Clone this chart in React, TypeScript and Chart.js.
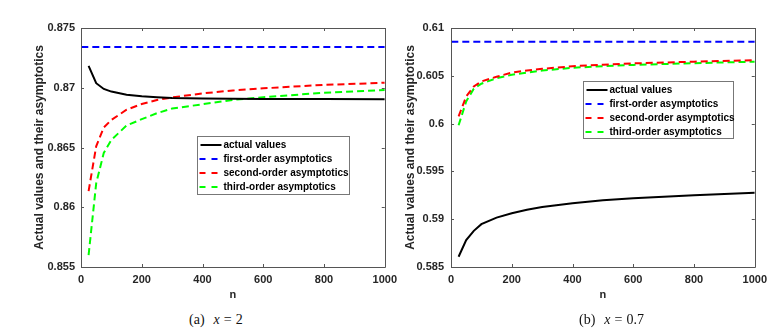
import React, { useEffect, useRef } from "react";
import { Chart, registerables } from "chart.js";

Chart.register(...registerables);

// ---- data ----
const nValues = [25, 50, 75, 100, 150, 200, 250, 300, 400, 500, 600, 800, 1000];
const nFirstOrder = [1, 1000];

const actualA = [0.87183, 0.87038, 0.8699, 0.86968, 0.86942, 0.86928, 0.8692, 0.86914, 0.8691, 0.86907, 0.86906, 0.86905, 0.86904];
const firstA = [0.87342, 0.87342];
const secondA = [0.86135, 0.8651, 0.86667, 0.86731, 0.86816, 0.86864, 0.86898, 0.86919, 0.86953, 0.86977, 0.86995, 0.87024, 0.87042];
const thirdA = [0.856, 0.862, 0.86455, 0.86564, 0.86684, 0.86737, 0.86787, 0.86826, 0.86862, 0.86898, 0.86921, 0.86958, 0.86981];

const actualB = [0.58607, 0.58781, 0.58878, 0.58948, 0.59017, 0.59062, 0.59098, 0.59128, 0.59166, 0.59198, 0.59219, 0.5925, 0.59277];
const firstB = [0.60857, 0.60857];
const secondB = [0.60076, 0.60284, 0.60389, 0.60441, 0.6049, 0.60534, 0.60555, 0.60573, 0.606, 0.60616, 0.6063, 0.60648, 0.60663];
const thirdB = [0.59982, 0.60232, 0.60365, 0.60417, 0.60475, 0.6051, 0.60534, 0.60555, 0.60584, 0.606, 0.60614, 0.60632, 0.60648];

const xTicks = [0, 200, 400, 600, 800, 1000];
const yTicksA = [0.855, 0.86, 0.865, 0.87, 0.875];
const yTicksB = [0.585, 0.59, 0.595, 0.6, 0.605, 0.61];

const seriesLabels = [
  "actual values",
  "first-order asymptotics",
  "second-order asymptotics",
  "third-order asymptotics",
];
const seriesColors = ["#000000", "#0000ff", "#ff0000", "#00ff00"];

const xTitle = "n";
const yTitle = "Actual values and their asymptotics";

const FONT = "'Liberation Sans', Arial, Helvetica, sans-serif";

// ---- plugins ----
const matlabAxes = {
  id: "matlabAxes",
  afterDatasetsDraw(chart: any) {
    const { ctx, chartArea } = chart;
    const { left, right, top, bottom } = chartArea;
    const xs = chart.scales.x;
    const ys = chart.scales.y;
    const tl = 3;
    ctx.save();
    ctx.strokeStyle = "#555555";
    ctx.lineWidth = 1;
    ctx.beginPath();
    ctx.rect(Math.round(left) + 0.5, Math.round(top) + 0.5, Math.round(right - left), Math.round(bottom - top));
    ctx.stroke();
    ctx.beginPath();
    xs.ticks.forEach((t: any) => {
      const px = Math.round(xs.getPixelForValue(t.value)) + 0.5;
      ctx.moveTo(px, bottom);
      ctx.lineTo(px, bottom - tl);
      ctx.moveTo(px, top);
      ctx.lineTo(px, top + tl);
    });
    ys.ticks.forEach((t: any) => {
      const py = Math.round(ys.getPixelForValue(t.value)) + 0.5;
      ctx.moveTo(left, py);
      ctx.lineTo(left + tl, py);
      ctx.moveTo(right, py);
      ctx.lineTo(right - tl, py);
    });
    ctx.stroke();
    ctx.restore();
  },
};

const insetLegend = {
  id: "insetLegend",
  afterDraw(chart: any, _args: any, opts: any) {
    const { ctx, chartArea } = chart;
    const x0 = Math.round(chartArea.left + opts.dx) + 0.5;
    const y0 = Math.round(chartArea.top + opts.dy) + 0.5;
    ctx.save();
    ctx.fillStyle = "#ffffff";
    ctx.fillRect(x0, y0, opts.w, opts.h);
    ctx.strokeStyle = "#777777";
    ctx.lineWidth = 1;
    ctx.strokeRect(x0, y0, opts.w, opts.h);
    ctx.font = `bold 10px ${FONT}`;
    ctx.textBaseline = "middle";
    ctx.textAlign = "left";
    chart.data.datasets.forEach((ds: any, i: number) => {
      const cy = y0 + 8.5 + i * 14;
      ctx.strokeStyle = ds.borderColor;
      ctx.lineWidth = 2;
      if (ds.borderDash && ds.borderDash.length) {
        ctx.setLineDash([6, 6]);
        ctx.beginPath();
        ctx.moveTo(x0 + 2, cy);
        ctx.lineTo(x0 + 21, cy);
        ctx.stroke();
      } else {
        ctx.setLineDash([]);
        ctx.beginPath();
        ctx.moveTo(x0 + 3, cy);
        ctx.lineTo(x0 + 24, cy);
        ctx.stroke();
      }
      ctx.setLineDash([]);
      ctx.fillStyle = "#000000";
      ctx.fillText(ds.label, x0 + 26, cy);
    });
    ctx.restore();
  },
};

type PanelProps = {
  left: number;
  width: number;
  yAxisWidth: number;
  titlePad: number;
  labelPad: number;
  yMin: number;
  yMax: number;
  yTicks: number[];
  actual: number[];
  first: number[];
  second: number[];
  third: number[];
  legend: { dx: number; dy: number; w: number; h: number };
};

function Panel(p: PanelProps) {
  const ref = useRef<HTMLCanvasElement | null>(null);
  useEffect(() => {
    if (!ref.current) return;
    const mk = (xs: number[], ys: number[]) => xs.map((x, i) => ({ x, y: ys[i] }));
    const series = [
      mk(nValues, p.actual),
      mk(nFirstOrder, p.first),
      mk(nValues, p.second),
      mk(nValues, p.third),
    ];
    const chart = new Chart(ref.current, {
      type: "line",
      data: {
        datasets: series.map((d, i) => ({
          label: seriesLabels[i],
          data: d,
          borderColor: seriesColors[i],
          backgroundColor: seriesColors[i],
          borderWidth: 2,
          borderDash: i === 0 ? [] : [7, 4],
          pointRadius: 0,
          tension: 0,
          fill: false,
        })),
      },
      options: {
        responsive: false,
        animation: false,
        events: [],
        layout: { padding: { left: 0, top: 28, right: 16, bottom: 0 } },
        plugins: {
          legend: { display: false },
          tooltip: { enabled: false },
          insetLegend: p.legend,
        } as any,
        scales: {
          x: {
            type: "linear",
            min: 0,
            max: 1000,
            grid: { display: false, drawTicks: false },
            border: { display: false },
            afterBuildTicks: (s: any) => {
              s.ticks = xTicks.map((v) => ({ value: v }));
            },
            afterFit: (s: any) => {
              s.height = 43;
            },
            ticks: {
              padding: 6,
              color: "#262626",
              font: { family: FONT, size: 11, weight: "bold" },
              maxRotation: 0,
              callback: (v: any) => String(v),
            },
            title: {
              display: true,
              text: xTitle,
              color: "#262626",
              font: { family: FONT, size: 11, weight: "bold" },
              padding: { top: 0, bottom: 8.4 },
            },
          },
          y: {
            type: "linear",
            min: p.yMin,
            max: p.yMax,
            grid: { display: false, drawTicks: false },
            border: { display: false },
            afterBuildTicks: (s: any) => {
              s.ticks = p.yTicks.map((v) => ({ value: v }));
            },
            afterFit: (s: any) => {
              s.width = p.yAxisWidth;
            },
            ticks: {
              padding: p.labelPad,
              color: "#262626",
              font: { family: FONT, size: 11, weight: "bold" },
              callback: (v: any) => String(Number(Number(v).toFixed(4))),
            },
            title: {
              display: true,
              text: yTitle,
              color: "#262626",
              font: { family: FONT, size: 12, weight: "bold" },
              padding: { top: p.titlePad, bottom: 0 },
            },
          },
        },
      } as any,
      plugins: [matlabAxes, insetLegend] as any,
    });
    return () => chart.destroy();
  }, []);
  return (
    <canvas
      ref={ref}
      width={p.width}
      height={310}
      style={{ position: "absolute", left: p.left, top: 0, width: p.width, height: 310 }}
    />
  );
}

const captionStyle: React.CSSProperties = {
  position: "absolute",
  top: 311,
  fontFamily: "'Liberation Serif', 'Times New Roman', serif",
  fontSize: 14,
  lineHeight: "18px",
  color: "#111",
  whiteSpace: "pre",
};

const eqStyle: React.CSSProperties = { margin: "0 4px" };

export default function App() {
  return (
    <div
      style={{
        position: "fixed",
        left: 0,
        top: 0,
        width: 779,
        height: 336,
        background: "#ffffff",
        overflow: "hidden",
      }}
    >
      <Panel
        left={0}
        width={403}
        yAxisWidth={81}
        titlePad={32}
        labelPad={6}
        yMin={0.855}
        yMax={0.875}
        yTicks={yTicksA}
        actual={actualA}
        first={firstA}
        second={secondA}
        third={thirdA}
        legend={{ dx: 116, dy: 108, w: 152, h: 58 }}
      />
      <Panel
        left={390}
        width={383}
        yAxisWidth={61}
        titlePad={13}
        labelPad={7}
        yMin={0.585}
        yMax={0.61}
        yTicks={yTicksB}
        actual={actualB}
        first={firstB}
        second={secondB}
        third={thirdB}
        legend={{ dx: 132, dy: 53, w: 150, h: 57 }}
      />
      <div style={{ ...captionStyle, left: 189 }}>
        (a)<span style={{ marginLeft: 9 }}><i>x</i></span><span style={eqStyle}>=</span>2
      </div>
      <div style={{ ...captionStyle, left: 579 }}>
        (b)<span style={{ marginLeft: 9 }}><i>x</i></span><span style={eqStyle}>=</span>0.7
      </div>
    </div>
  );
}
